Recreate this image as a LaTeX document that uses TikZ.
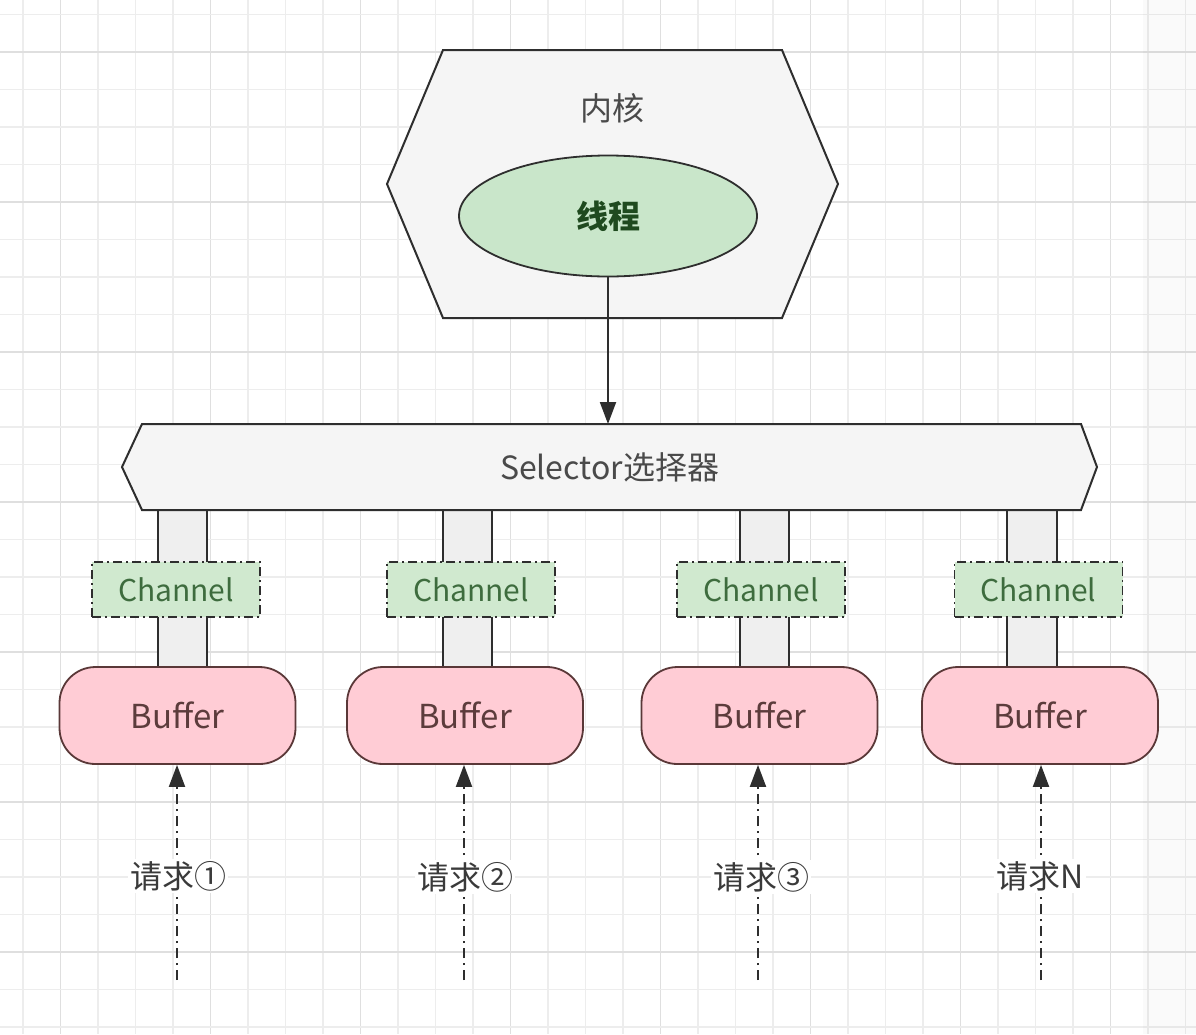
\documentclass[tikz,border=0pt]{standalone}
\usepackage{fontspec}
\setmainfont{Noto Sans CJK SC}
\usetikzlibrary{arrows.meta,backgrounds,calc,shapes.geometric}
\definecolor{gridminor}{HTML}{EDEDED}
\definecolor{gridmajor}{HTML}{DFDFDF}
\definecolor{linec}{HTML}{2E2E2E}
\definecolor{boxgray}{HTML}{F5F5F5}
\definecolor{pipegray}{HTML}{EFEFEF}
\definecolor{greenfill}{HTML}{D0E9CF}
\definecolor{ellfill}{HTML}{C9E6CA}
\definecolor{greentext}{HTML}{3E6C3E}
\definecolor{threadtext}{HTML}{1F4A1F}
\definecolor{pinkfill}{HTML}{FFCCD5}
\definecolor{pinkline}{HTML}{5A3838}
\definecolor{pinktext}{HTML}{5C3C3C}
\definecolor{graytext}{HTML}{4A4A4A}
\definecolor{labeltext}{HTML}{3A3A3A}
\tikzset{
  bigfont/.style={font=\fontsize{32}{38}\selectfont},
  frame/.style={inner sep=0pt, outer sep=0pt},
  shapeline/.style={draw=linec, line width=2pt, line join=miter},
  threadnode/.style={ellipse, draw=linec, line width=1.8pt, fill=ellfill,
    minimum width=298pt, minimum height=121pt, inner sep=0pt,
    text=threadtext, font=\fontsize{32}{38}\selectfont\bfseries},
  chanbox/.style={rectangle, draw=linec, line width=1.8pt, fill=greenfill,
    dash pattern=on 9pt off 4pt on 2pt off 4pt,
    minimum width=168pt, minimum height=55pt, inner sep=0pt,
    text=greentext, font=\fontsize{30}{36}\selectfont},
  bufbox/.style={rectangle, rounded corners=36pt, draw=pinkline, line width=1.8pt,
    fill=pinkfill, minimum width=236pt, minimum height=97pt, inner sep=0pt,
    text=pinktext, font=\fontsize{33}{38}\selectfont},
  pipeline/.style={draw=linec, line width=2pt},
  mainarrow/.style={draw=linec, line width=2pt, -{Triangle[length=22pt,width=16pt]}},
  reqarrow/.style={draw=linec, line width=2pt, dash pattern=on 10pt off 5pt on 2pt off 5pt,
    -{Triangle[length=22pt,width=16pt]}},
  reqlabel/.style={fill=white, inner sep=2pt, text=labeltext, font=\fontsize{32}{38}\selectfont},
}
\begin{document}
\begin{tikzpicture}[x=1pt,y=-1pt]
\useasboundingbox (0,0) rectangle (1196,1034);
\fill[white] (0,0) rectangle (1196,1034);
% grid
\foreach \k in {0,...,32} {
  \pgfmathsetmacro{\gx}{-14.5+37.5*\k}
  \pgfmathtruncatemacro{\m}{mod(\k,4)}
  \ifnum\m=2 \draw[gridmajor, line width=1.3pt] (\gx,0) -- (\gx,1034);
  \else \draw[gridminor, line width=1.1pt] (\gx,0) -- (\gx,1034); \fi
}
\foreach \k in {0,...,28} {
  \pgfmathsetmacro{\gy}{-23+37.5*\k}
  \pgfmathtruncatemacro{\m}{mod(\k,4)}
  \ifnum\m=2 \draw[gridmajor, line width=1.3pt] (0,\gy) -- (1196,\gy);
  \else \draw[gridminor, line width=1.1pt] (0,\gy) -- (1196,\gy); \fi
}
\fill[black, opacity=0.02] (1143,0) rectangle (1196,1034);

% kernel hexagon
\node[frame, minimum width=451pt, minimum height=268pt] (kernel) at (612.5,184) {};
\path[shapeline, fill=boxgray] (kernel.west) -- ($(kernel.north west)+(56,0)$)
  -- ($(kernel.north east)+(-56,0)$) -- (kernel.east)
  -- ($(kernel.south east)+(-56,0)$) -- ($(kernel.south west)+(56,0)$) -- cycle;
\node[bigfont, text=graytext] (kerneltext) at (612,108) {内核};
\node[threadnode] (thread) at (608,216) {线程};

% selector
\node[frame, minimum width=975pt, minimum height=86pt] (sel) at (609.5,467) {};

% pipes (behind selector edges)
\foreach \xa/\xb in {158/207, 443/492, 740/789, 1007/1057} {
  \fill[pipegray] (\xa,510) rectangle (\xb,667);
  \draw[pipeline] (\xa,509) -- (\xa,668);
  \draw[pipeline] (\xb,509) -- (\xb,668);
}

\path[shapeline, fill=boxgray] (sel.west) -- ($(sel.north west)+(20,0)$)
  -- ($(sel.north east)+(-16,0)$) -- (sel.east)
  -- ($(sel.south east)+(-16,0)$) -- ($(sel.south west)+(20,0)$) -- cycle;
\node[bigfont, text=graytext] (seltext) at (sel.center) {Selector选择器};

\draw[mainarrow] (thread.south) -- (thread.south |- sel.north);

% channels and buffers
\node[chanbox] (c1) at (176,589.5) {Channel};
\node[chanbox] (c2) at (471,589.5) {Channel};
\node[chanbox] (c3) at (761,589.5) {Channel};
\node[chanbox] (c4) at (1038.5,589.5) {Channel};

\node[bufbox] (b1) at (177.5,715.5) {Buffer};
\node[bufbox] (b2) at (465,715.5) {Buffer};
\node[bufbox] (b3) at (759.5,715.5) {Buffer};
\node[bufbox] (b4) at (1040,715.5) {Buffer};

% requests
\coordinate (r1) at (177,980);
\coordinate (r2) at (464,980);
\coordinate (r3) at (758,980);
\coordinate (r4) at (1041,980);
\draw[reqarrow] (r1) -- (r1 |- b1.south);
\draw[reqarrow] (r2) -- (r2 |- b2.south);
\draw[reqarrow] (r3) -- (r3 |- b3.south);
\draw[reqarrow] (r4) -- (r4 |- b4.south);
\node[reqlabel] (q1) at (178,876) {请求①};
\node[reqlabel] (q2) at (465,877) {请求②};
\node[reqlabel] (q3) at (761,877) {请求③};
\node[reqlabel] (q4) at (1040,876) {请求N};
\end{tikzpicture}
\end{document}
